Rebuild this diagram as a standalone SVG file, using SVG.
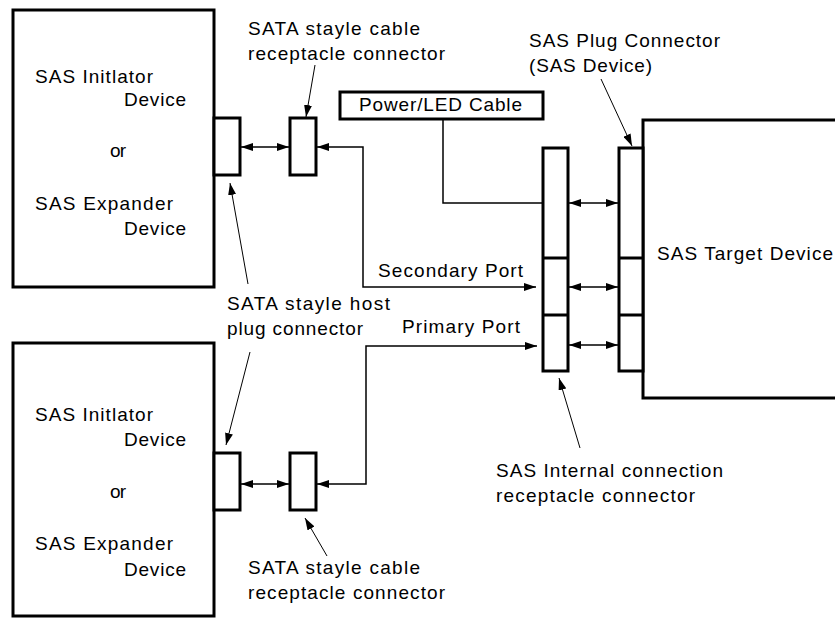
<svg xmlns="http://www.w3.org/2000/svg" width="835" height="618" viewBox="0 0 835 618">
<style>
.box{fill:#fff;stroke:#000;stroke-width:3}
.thin{fill:none;stroke:#000;stroke-width:1.5}
.lbl{fill:none;stroke:#000;stroke-width:1}
text{font-family:"Liberation Sans",Arial,sans-serif;font-size:19px;fill:#000}
</style>
<defs>
<marker id="ah" markerUnits="userSpaceOnUse" markerWidth="13" markerHeight="8" refX="12" refY="4" orient="auto-start-reverse">
<path d="M0,0 L12,4 L0,8 z" fill="#000"/>
</marker>
</defs>
<rect width="835" height="618" fill="#fff"/>

<g id="initiator-top">
<rect class="box" x="13" y="10" width="201" height="277"/>
<text x="35" y="83" textLength="118" lengthAdjust="spacing">SAS Initlator</text>
<text x="124" y="106" textLength="62" lengthAdjust="spacing">Device</text>
<text x="110" y="157" textLength="16" lengthAdjust="spacing">or</text>
<text x="35" y="210" textLength="138" lengthAdjust="spacing">SAS Expander</text>
<text x="124" y="235" textLength="62" lengthAdjust="spacing">Device</text>
</g>
<g id="initiator-bottom">
<rect class="box" x="13" y="343" width="201" height="273"/>
<text x="35" y="421" textLength="118" lengthAdjust="spacing">SAS Initlator</text>
<text x="124" y="446" textLength="62" lengthAdjust="spacing">Device</text>
<text x="110" y="498" textLength="16" lengthAdjust="spacing">or</text>
<text x="35" y="550" textLength="138" lengthAdjust="spacing">SAS Expander</text>
<text x="124" y="576" textLength="62" lengthAdjust="spacing">Device</text>
</g>
<g id="host-plug-top"><rect class="box" x="214" y="118" width="26" height="57"/></g>
<g id="host-plug-bottom"><rect class="box" x="214" y="453" width="26" height="57"/></g>
<g id="cable-rec-top"><rect class="box" x="290" y="118" width="26" height="57"/></g>
<g id="cable-rec-bottom"><rect class="box" x="290" y="453" width="26" height="57"/></g>
<g id="power-led">
<rect class="box" x="340" y="92" width="203" height="27"/>
<text x="359" y="111" textLength="163" lengthAdjust="spacing">Power/LED Cable</text>
</g>
<g id="target-device">
<rect class="box" x="643" y="120" width="210" height="278"/>
<text x="657" y="260" textLength="176" lengthAdjust="spacing">SAS Target Device</text>
</g>
<g id="internal-receptacle">
<rect class="box" x="543" y="148" width="25" height="223"/>
<line class="box" x1="543" y1="258" x2="568" y2="258"/>
<line class="box" x1="543" y1="315" x2="568" y2="315"/>
</g>
<g id="plug-connector">
<rect class="box" x="619" y="148" width="24" height="223"/>
<line class="box" x1="619" y1="258" x2="643" y2="258"/>
<line class="box" x1="619" y1="315" x2="643" y2="315"/>
</g>

<g id="labels">
<text x="248" y="35" textLength="172" lengthAdjust="spacing">SATA stayle cable</text>
<text x="248" y="60" textLength="197" lengthAdjust="spacing">receptacle connector</text>
<text x="529" y="47" textLength="191" lengthAdjust="spacing">SAS Plug Connector</text>
<text x="529" y="72" textLength="123" lengthAdjust="spacing">(SAS Device)</text>
<text x="378" y="277" textLength="145" lengthAdjust="spacing">Secondary Port</text>
<text x="227" y="310" textLength="163" lengthAdjust="spacing">SATA stayle host</text>
<text x="227" y="335" textLength="136" lengthAdjust="spacing">plug connector</text>
<text x="402" y="333" textLength="118" lengthAdjust="spacing">Primary Port</text>
<text x="496" y="477" textLength="227" lengthAdjust="spacing">SAS Internal connection</text>
<text x="496" y="502" textLength="199" lengthAdjust="spacing">receptacle connector</text>
<text x="248" y="574" textLength="172" lengthAdjust="spacing">SATA stayle cable</text>
<text x="248" y="599" textLength="197" lengthAdjust="spacing">receptacle connector</text>
</g>

<g id="connectors">
<line class="thin" x1="241" y1="147" x2="289" y2="147" marker-start="url(#ah)" marker-end="url(#ah)"/>
<line class="thin" x1="241" y1="484" x2="289" y2="484" marker-start="url(#ah)" marker-end="url(#ah)"/>
<path class="thin" d="M317,147 H363 V287 H536" marker-start="url(#ah)" marker-end="url(#ah)"/>
<path class="thin" d="M317,484 H366 V346 H537" marker-start="url(#ah)" marker-end="url(#ah)"/>
<path class="thin" d="M443,119 V203 H543"/>
<line class="thin" x1="569" y1="203" x2="618" y2="203" marker-start="url(#ah)" marker-end="url(#ah)"/>
<line class="thin" x1="569" y1="287" x2="618" y2="287" marker-start="url(#ah)" marker-end="url(#ah)"/>
<line class="thin" x1="569" y1="345" x2="618" y2="345" marker-start="url(#ah)" marker-end="url(#ah)"/>
<line class="lbl" x1="315" y1="65" x2="306" y2="117" marker-end="url(#ah)"/>
<line class="lbl" x1="601" y1="79" x2="632" y2="146" marker-end="url(#ah)"/>
<line class="lbl" x1="248" y1="284" x2="230" y2="183" marker-end="url(#ah)"/>
<line class="lbl" x1="250" y1="352" x2="226" y2="445" marker-end="url(#ah)"/>
<line class="lbl" x1="327" y1="556" x2="305" y2="518" marker-end="url(#ah)"/>
<line class="lbl" x1="580" y1="448" x2="559" y2="378" marker-end="url(#ah)"/>
</g>
</svg>
